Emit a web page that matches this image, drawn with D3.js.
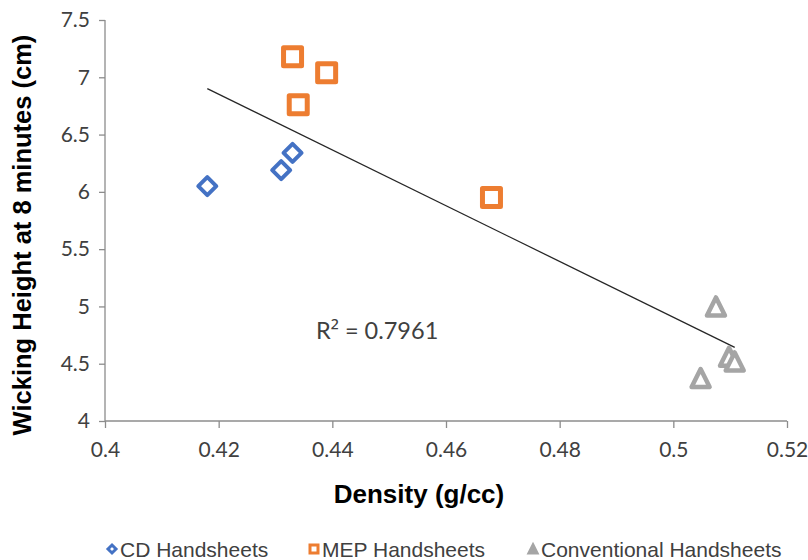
<!DOCTYPE html>
<html>
<head>
<meta charset="utf-8">
<script src="https://cdn.jsdelivr.net/npm/d3@7"></script>
<style>
  html, body { margin: 0; padding: 0; background: #fff; }
  svg { display: block; }
</style>
</head>
<body>
<svg id="chart" width="808" height="560"></svg>
<script>
// Wicking height vs. handsheet density, three handsheet types
const cdDensity   = [0.418, 0.431, 0.433];
const cdWicking   = [6.05, 6.19, 6.34];
const mepDensity  = [0.433, 0.439, 0.434, 0.468];
const mepWicking  = [7.18, 7.04, 6.76, 5.95];
const convDensity = [0.5075, 0.5048, 0.5098, 0.5108];
const convWicking = [5.00, 4.375, 4.56, 4.52];

const xTicks = [0.4, 0.42, 0.44, 0.46, 0.48, 0.5, 0.52];
const yTicks = [4, 4.5, 5, 5.5, 6, 6.5, 7, 7.5];
const seriesNames = ["CD Handsheets", "MEP Handsheets", "Conventional Handsheets"];
const rSquaredValue = "0.7961";

const svg = d3.select("#chart");
const plotLeft = 105, plotRight = 787, plotTop = 20, plotBottom = 421;

const x = d3.scaleLinear().domain([0.4, 0.52]).range([plotLeft, plotRight]);
const y = d3.scaleLinear().domain([4, 7.5]).range([plotBottom, plotTop]);

const axisColor = "#8c8c8c";
const textColor = "#404040";
const tickFont = "Lato, 'Open Sans', sans-serif";
const titleFont = "'Liberation Sans', Arial, sans-serif";

// Y axis
const yAxis = svg.append("g").attr("transform", `translate(${plotLeft},0)`)
  .call(d3.axisLeft(y).tickValues(yTicks).tickSize(6).tickPadding(9)
    .tickFormat(d => d3.format("")(d)));
// X axis
const xAxis = svg.append("g").attr("transform", `translate(0,${plotBottom})`)
  .call(d3.axisBottom(x).tickValues(xTicks).tickSize(7).tickPadding(14)
    .tickFormat(d => d3.format("")(d)));

[yAxis, xAxis].forEach(g => {
  g.select(".domain").attr("stroke", axisColor).attr("stroke-width", 1.3);
  g.selectAll(".tick line").attr("stroke", axisColor).attr("stroke-width", 1.3);
  g.selectAll(".tick text").attr("fill", textColor)
    .style("font-family", tickFont).style("font-size", "21px");
});
// plain axis lines without outer end ticks
yAxis.select(".domain").attr("d", `M0,${plotTop}V${plotBottom}`);
xAxis.select(".domain").attr("d", `M${plotLeft},0H${plotRight}`);

// Axis titles
svg.append("text")
  .attr("transform", `translate(31,235) rotate(-90)`)
  .attr("text-anchor", "middle")
  .style("font-family", titleFont)
  .style("font-weight", "bold").style("font-size", "25.5px")
  .attr("fill", "#000")
  .text("Wicking Height at 8 minutes (cm)");

svg.append("text")
  .attr("x", 419).attr("y", 503)
  .attr("text-anchor", "middle")
  .style("font-family", titleFont)
  .style("font-weight", "bold").style("font-size", "26px")
  .attr("fill", "#000")
  .text("Density (g/cc)");

// Marker shapes
const diamondType = {
  draw(ctx, size) {
    const r = Math.sqrt(size) / 2;
    ctx.moveTo(0, -r); ctx.lineTo(r, 0); ctx.lineTo(0, r); ctx.lineTo(-r, 0); ctx.closePath();
  }
};
const squareType = {
  draw(ctx, size) {
    const h = Math.sqrt(size) / 2;
    ctx.rect(-h, -h, 2 * h, 2 * h);
  }
};
const triangleType = {
  draw(ctx, size) {
    const h = Math.sqrt(size) / 2;
    ctx.moveTo(0, -h); ctx.lineTo(h, h); ctx.lineTo(-h, h); ctx.closePath();
  }
};

const series = [
  { name: seriesNames[0], xs: cdDensity, ys: cdWicking, color: "#4472C4", type: diamondType, size: 18 * 18, sw: 4 },
  { name: seriesNames[1], xs: mepDensity, ys: mepWicking, color: "#ED7D31", type: squareType, size: 18 * 18, sw: 5 },
  { name: seriesNames[2], xs: convDensity, ys: convWicking, color: "#A5A5A5", type: triangleType, size: 18 * 18, sw: 4.5 }
];

// Linear trendline over all points
const allX = [].concat(cdDensity, mepDensity, convDensity);
const allY = [].concat(cdWicking, mepWicking, convWicking);
const mx = d3.mean(allX), my = d3.mean(allY);
const slope = d3.sum(allX, (v, i) => (v - mx) * (allY[i] - my)) / d3.sum(allX, v => (v - mx) ** 2);
const intercept = my - slope * mx;
const [x0, x1] = d3.extent(allX);
svg.append("line")
  .attr("x1", x(x0)).attr("y1", y(intercept + slope * x0))
  .attr("x2", x(x1)).attr("y2", y(intercept + slope * x1))
  .attr("stroke", "#262626").attr("stroke-width", 1.3);

// Points
series.forEach(s => {
  svg.append("g").selectAll("path")
    .data(s.xs.map((v, i) => [v, s.ys[i]]))
    .join("path")
    .attr("transform", d => `translate(${x(d[0])},${y(d[1])})`)
    .attr("d", d3.symbol().type(s.type).size(s.size))
    .attr("fill", "#fff")
    .attr("stroke", s.color)
    .attr("stroke-width", s.sw)
    .attr("stroke-linejoin", "round");
});

// R-squared label
const r2 = svg.append("text")
  .attr("x", 316).attr("y", 339)
  .style("font-family", tickFont).style("font-size", "23.5px")
  .attr("fill", textColor);
r2.append("tspan").text("R");
r2.append("tspan").style("font-family", "'Open Sans', sans-serif").text("\u00B2");
r2.append("tspan").text(" = " + rSquaredValue);

// Legend
const legendX = [112, 314, 533];
const legend = svg.append("g");
series.forEach((s, i) => {
  const g = legend.append("g").attr("transform", `translate(${legendX[i]},549)`);
  g.append("path")
    .attr("d", d3.symbol().type(s.type).size(8 * 8))
    .attr("fill", i === 2 ? s.color : "#fff")
    .attr("stroke", s.color).attr("stroke-width", 3);
  g.append("text")
    .attr("x", 8).attr("y", 7.5)
    .style("font-family", titleFont)
    .style("font-size", "21px")
    .attr("fill", textColor)
    .text(s.name);
});
</script>
</body>
</html>
